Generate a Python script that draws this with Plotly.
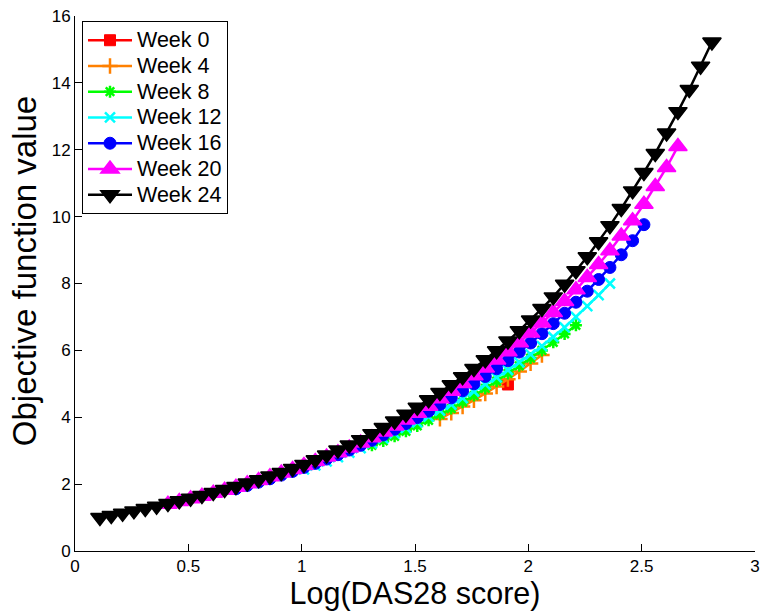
import plotly.graph_objects as go

# ---- data ----
weeks = ["Week 0", "Week 4", "Week 8", "Week 12", "Week 16", "Week 20", "Week 24"]

x_w0 = [1.91]
y_w0 = [4.98]

x_w4 = [1.61, 1.66, 1.71, 1.76, 1.81, 1.86, 1.91, 1.96, 2.01, 2.06]
y_w4 = [3.95, 4.13, 4.32, 4.51, 4.71, 4.92, 5.14, 5.37, 5.61, 5.86]

x_w8 = [1.31, 1.36, 1.41, 1.46, 1.51, 1.56, 1.61, 1.66, 1.71, 1.76,
        1.81, 1.86, 1.91, 1.96, 2.01, 2.06, 2.11, 2.16, 2.21]
y_w8 = [3.16, 3.29, 3.43, 3.58, 3.74, 3.91, 4.08, 4.26, 4.45, 4.65,
        4.86, 5.08, 5.31, 5.54, 5.77, 6.00, 6.24, 6.49, 6.75]

x_w12 = [1.01, 1.06, 1.11, 1.16, 1.21, 1.26, 1.31, 1.36, 1.41, 1.46,
         1.51, 1.56, 1.61, 1.66, 1.71, 1.76, 1.81, 1.86, 1.91, 1.96,
         2.01, 2.06, 2.11, 2.16, 2.21, 2.26, 2.31, 2.36]
y_w12 = [2.44, 2.56, 2.68, 2.81, 2.94, 3.08, 3.22, 3.37, 3.52, 3.68,
         3.85, 4.02, 4.20, 4.38, 4.57, 4.77, 4.98, 5.19, 5.41, 5.64,
         5.88, 6.13, 6.40, 6.69, 7.00, 7.32, 7.65, 8.00]

x_w16 = [0.71, 0.76, 0.81, 0.86, 0.91, 0.96, 1.01, 1.06, 1.11, 1.16,
         1.21, 1.26, 1.31, 1.36, 1.41, 1.46, 1.51, 1.56, 1.61, 1.66,
         1.71, 1.76, 1.81, 1.86, 1.91, 1.96, 2.01, 2.06, 2.11, 2.16,
         2.21, 2.26, 2.31, 2.36, 2.41, 2.46, 2.51]
y_w16 = [1.86, 1.96, 2.06, 2.16, 2.27, 2.38, 2.50, 2.62, 2.75, 2.88,
         3.02, 3.16, 3.31, 3.47, 3.64, 3.81, 3.99, 4.18, 4.38, 4.58,
         4.79, 5.00, 5.22, 5.45, 5.69, 5.95, 6.22, 6.50, 6.80, 7.11,
         7.44, 7.77, 8.12, 8.48, 8.86, 9.28, 9.76]

x_w20 = [0.41, 0.46, 0.51, 0.56, 0.61, 0.66, 0.71, 0.76, 0.81, 0.86,
         0.91, 0.96, 1.01, 1.06, 1.11, 1.16, 1.21, 1.26, 1.31, 1.36,
         1.41, 1.46, 1.51, 1.56, 1.61, 1.66, 1.71, 1.76, 1.81, 1.86,
         1.91, 1.96, 2.01, 2.06, 2.11, 2.16, 2.21, 2.26, 2.31, 2.36,
         2.41, 2.46, 2.51, 2.56, 2.61, 2.66]
y_w20 = [1.40, 1.48, 1.56, 1.64, 1.73, 1.82, 1.91, 2.01, 2.11, 2.22,
         2.33, 2.44, 2.56, 2.68, 2.81, 2.94, 3.08, 3.23, 3.39, 3.56,
         3.74, 3.92, 4.12, 4.33, 4.55, 4.78, 5.01, 5.24, 5.47, 5.71,
         5.96, 6.23, 6.52, 6.82, 7.13, 7.46, 7.81, 8.18, 8.57, 8.98,
         9.42, 9.88, 10.37, 10.90, 11.47, 12.10]

x_w24 = [0.11, 0.16, 0.21, 0.26, 0.31, 0.36, 0.41, 0.46, 0.51, 0.56,
         0.61, 0.66, 0.71, 0.76, 0.81, 0.86, 0.91, 0.96, 1.01, 1.06,
         1.11, 1.16, 1.21, 1.26, 1.31, 1.36, 1.41, 1.46, 1.51, 1.56,
         1.61, 1.66, 1.71, 1.76, 1.81, 1.86, 1.91, 1.96, 2.01, 2.06,
         2.11, 2.16, 2.21, 2.26, 2.31, 2.36, 2.41, 2.46, 2.51, 2.56,
         2.61, 2.66, 2.71, 2.76, 2.81]
y_w24 = [1.00, 1.06, 1.13, 1.20, 1.27, 1.34, 1.42, 1.50, 1.58, 1.66,
         1.75, 1.84, 1.93, 2.03, 2.13, 2.24, 2.35, 2.47, 2.59, 2.73,
         2.87, 3.02, 3.17, 3.33, 3.51, 3.69, 3.89, 4.09, 4.30, 4.52,
         4.74, 4.97, 5.21, 5.46, 5.72, 5.99, 6.28, 6.59, 6.91, 7.25,
         7.60, 7.98, 8.38, 8.80, 9.25, 9.73, 10.24, 10.77, 11.32, 11.89,
         12.50, 13.14, 13.80, 14.50, 15.22]

x_ticks = [0, 0.5, 1, 1.5, 2, 2.5, 3]
y_ticks = [0, 2, 4, 6, 8, 10, 12, 14, 16]

# ---- styles ----
series = [
    (x_w0, y_w0, "#ff0000", "square", 11, 1),
    (x_w4, y_w4, "#ff8000", "cross-thin-open", 11, 2.5),
    (x_w8, y_w8, "#00ff00", "asterisk-open", 10, 2.5),
    (x_w12, y_w12, "#00ffff", "x-thin-open", 10, 2.5),
    (x_w16, y_w16, "#0000ff", "circle", 12, 1),
    (x_w20, y_w20, "#ff00ff", "triangle-up", 16, 1.5),
    (x_w24, y_w24, "#000000", "triangle-down", 16, 1.5),
]

FONT = "Liberation Sans, Arial, Helvetica, sans-serif"

fig = go.Figure()
for name, (xs, ys, col, sym, sz, lw) in zip(weeks, series):
    fig.add_trace(go.Scatter(
        x=xs, y=ys, name='<span style="font-size:21.5px">%s</span>' % name,
        mode="lines+markers",
        line=dict(color=col, width=2.5),
        marker=dict(symbol=sym, size=sz, color=col,
                    line=dict(color=col, width=lw)),
    ))

axis_common = dict(
    showgrid=False, zeroline=False, showline=True, linecolor="black",
    linewidth=1, ticks="inside", ticklen=7, tickwidth=1, tickcolor="black",
    mirror=False, automargin=False,
    tickfont=dict(family=FONT, size=17, color="black"),
)

fig.update_layout(
    width=762, height=612,
    margin=dict(l=75, r=7, t=16, b=61),
    paper_bgcolor="white", plot_bgcolor="white",
    font=dict(family=FONT, color="black"),
    showlegend=True,
    legend=dict(
        x=0.0103, y=0.99, xanchor="left", yanchor="top",
        bgcolor="white", bordercolor="black", borderwidth=1,
        font=dict(family=FONT, size=17.5, color="black"),
        itemwidth=44, tracegroupgap=0,
    ),
    xaxis=dict(range=[0, 3], tickvals=x_ticks,
               ticktext=[("%g" % v) for v in x_ticks],
               title=dict(text="Log(DAS28 score)",
                          font=dict(family=FONT, size=30.5, color="black"),
                          standoff=4),
               **axis_common),
    yaxis=dict(range=[0, 16], tickvals=y_ticks,
               ticktext=[("%g" % v) for v in y_ticks],
               **axis_common),
    annotations=[dict(
        text="Objective function value", textangle=-90,
        xref="paper", yref="paper", x=-0.075, y=0.523,
        xanchor="center", yanchor="middle", showarrow=False,
        font=dict(family=FONT, size=33, color="black"),
    )],
)

fig.write_html("out.html")
